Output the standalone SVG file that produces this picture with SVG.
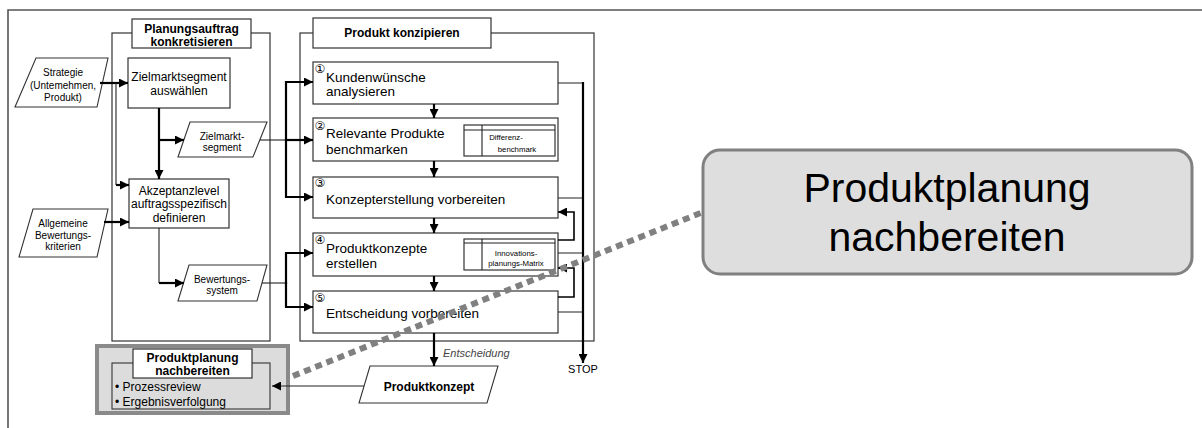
<svg xmlns="http://www.w3.org/2000/svg" width="1202" height="428" viewBox="0 0 1202 428">
  <defs>
    <marker id="ah" viewBox="0 0 10 10" refX="10" refY="5" markerWidth="9" markerHeight="9" markerUnits="userSpaceOnUse" orient="auto">
      <path d="M0,0 L10,5 L0,10 z" fill="#000"/>
    </marker>
    <style>
      text { font-family: "Liberation Sans", Arial, sans-serif; fill: #000; }
      .box { fill: #fff; stroke: #333; stroke-width: 1.2; }
      .frame { fill: none; stroke: #333; stroke-width: 1.2; }
      .para { fill: #fff; stroke: #333; stroke-width: 1.1; }
      .thin { fill: none; stroke: #222; stroke-width: 1.1; }
      .thick { fill: none; stroke: #000; stroke-width: 2.2; }
      .mid { fill: none; stroke: #000; stroke-width: 1.6; }
      .t12 { font-size: 12px; text-anchor: middle; }
      .t10 { font-size: 10px; text-anchor: middle; }
      .b12 { font-size: 12px; font-weight: bold; text-anchor: middle; }
      .step { font-size: 13.5px; }
      .num { font-family: "DejaVu Sans", sans-serif; font-size: 12px; text-anchor: middle; }
      .tiny { font-size: 7.8px; text-anchor: middle; }
    </style>
  </defs>

  <!-- page frame -->
  <path d="M8,428 V10 H1202" fill="none" stroke="#555" stroke-width="1.6"/>

  <!-- Planungsauftrag konkretisieren -->
  <g id="planungsauftrag">
    <rect class="frame" x="112" y="33" width="158" height="308"/>
    <rect class="box" x="132" y="19" width="119" height="29"/>
    <text class="b12" x="191.5" y="33">Planungsauftrag</text>
    <text class="b12" x="191.5" y="46">konkretisieren</text>
  </g>

  <g id="zielmarkt-auswaehlen">
    <rect class="box" x="128" y="58" width="102" height="50"/>
    <text class="t12" x="179" y="81">Zielmarktsegment</text>
    <text class="t12" x="179" y="95">auswählen</text>
  </g>

  <g id="akzeptanzlevel">
    <rect class="box" x="129" y="179" width="100" height="49"/>
    <text class="t12" x="179" y="195">Akzeptanzlevel</text>
    <text class="t12" x="179" y="208">auftragsspezifisch</text>
    <text class="t12" x="179" y="222">definieren</text>
  </g>

  <g id="strategie">
    <polygon class="para" points="36,58 108,58 97,107 15,107"/>
    <text class="t10" x="63" y="75.5">Strategie</text>
    <text class="t10" x="63" y="88.5">(Untemehmen,</text>
    <text class="t10" x="63" y="100.5">Produkt)</text>
  </g>

  <g id="bewertungskriterien">
    <polygon class="para" points="33,209 108,209 97,257 19,257"/>
    <text class="t10" x="63" y="226.5">Allgemeine</text>
    <text class="t10" x="63" y="238.5">Bewertungs-</text>
    <text class="t10" x="63" y="249.5">kriterien</text>
  </g>

  <g id="zielmarktsegment">
    <polygon class="para" points="190,122 267,122 253,157 178,157"/>
    <text class="t10" x="222" y="139.5">Zielmarkt-</text>
    <text class="t10" x="222" y="150.5">segment</text>
  </g>

  <g id="bewertungssystem">
    <polygon class="para" points="189,265 267,265 257,301 178,301"/>
    <text class="t10" x="222" y="282.5">Bewertungs-</text>
    <text class="t10" x="222" y="293.5">system</text>
  </g>

  <!-- Produkt konzipieren -->
  <g id="produkt-konzipieren">
    <rect class="frame" x="300" y="33" width="294" height="308"/>
    <rect class="box" x="313" y="18" width="178" height="30"/>
    <text class="b12" x="402" y="37">Produkt konzipieren</text>
  </g>

  <g id="schritt1">
    <rect class="box" x="313" y="62" width="245" height="42"/>
    <text class="num" x="320" y="72.5">①</text>
    <text class="step" x="326" y="82">Kundenwünsche</text>
    <text class="step" x="326" y="96">analysieren</text>
  </g>

  <g id="schritt2">
    <rect class="box" x="313" y="118" width="245" height="43"/>
    <text class="num" x="320" y="129.5">②</text>
    <text class="step" x="326" y="138">Relevante Produkte</text>
    <text class="step" x="326" y="154">benchmarken</text>
    <rect class="box" x="464" y="125" width="91" height="31"/>
    <path class="thin" d="M464,130 H555 M482,125 V156"/>
    <text class="tiny" x="506" y="140">Differenz-</text>
    <text class="tiny" x="517" y="152">benchmark</text>
  </g>

  <g id="schritt3">
    <rect class="box" x="313" y="177" width="245" height="41"/>
    <text class="num" x="320" y="186.5">③</text>
    <text class="step" x="326" y="204">Konzepterstellung vorbereiten</text>
  </g>

  <g id="schritt4">
    <rect class="box" x="313" y="233" width="245" height="43"/>
    <text class="num" x="320" y="243.5">④</text>
    <text class="step" x="326" y="253">Produktkonzepte</text>
    <text class="step" x="326" y="268">erstellen</text>
    <rect class="box" x="464" y="239" width="91" height="31"/>
    <path class="thin" d="M464,243 H555 M482,239 V270"/>
    <text class="tiny" x="516" y="256">Innovations-</text>
    <text class="tiny" x="516" y="266">planungs-Matrix</text>
  </g>

  <g id="schritt5">
    <rect class="box" x="313" y="291" width="245" height="42"/>
    <text class="num" x="320" y="301.5">⑤</text>
    <text class="step" x="326" y="318">Entscheidung vorbereiten</text>
  </g>

  <g id="produktkonzept">
    <polygon class="para" points="370,366 498,366 487,403 359,403"/>
    <text class="b12" x="429" y="391">Produktkonzept</text>
  </g>

  <g id="stop">
    <text style="font-size:11px;text-anchor:middle" x="583" y="373">STOP</text>
  </g>

  <!-- Produktplanung nachbereiten (small) -->
  <g id="nachbereiten-klein">
    <rect x="97" y="346" width="191" height="67" fill="#dcdcdc" stroke="#8a8a8a" stroke-width="4"/>
    <rect x="112" y="363" width="158" height="46" fill="none" stroke="#333" stroke-width="1.1"/>
    <rect class="box" x="133" y="349" width="119" height="29"/>
    <text class="b12" x="192.5" y="362">Produktplanung</text>
    <text class="b12" x="192.5" y="375">nachbereiten</text>
    <text style="font-size:12px" x="115" y="391">• Prozessreview</text>
    <text style="font-size:12px" x="115" y="406">• Ergebnisverfolgung</text>
  </g>

  <!-- Produktplanung nachbereiten (callout) -->
  <g id="nachbereiten-gross">
    <rect x="703" y="150" width="489" height="124" rx="17" fill="#dedede" stroke="#808080" stroke-width="3"/>
    <text style="font-size:41px;text-anchor:middle" x="947" y="202">Produktplanung</text>
    <text style="font-size:41px;text-anchor:middle" x="947" y="251">nachbereiten</text>
  </g>

  <!-- connectors -->
  <g id="connectors">
    <!-- left column -->
    <path class="thick" d="M100,83 H128" marker-end="url(#ah)"/>
    <path class="thin" d="M116,83 V185"/>
    <path class="thick" d="M116,185 H129" marker-end="url(#ah)"/>
    <path class="thick" d="M159,108 V179" marker-end="url(#ah)"/>
    <path class="thick" d="M159,140 H184" marker-end="url(#ah)"/>
    <path class="thick" d="M104,222 H129" marker-end="url(#ah)"/>
    <path class="thin" d="M159,228 V283"/>
    <path class="thick" d="M159,283 H184" marker-end="url(#ah)"/>

    <!-- inputs to Produkt konzipieren -->
    <path class="thin" d="M260,140 H287"/>
    <path class="thick" d="M286,140 H313" marker-end="url(#ah)"/>
    <path class="thick" d="M286,141 V82 H313" marker-end="url(#ah)"/>
    <path class="thick" d="M286,139 V197 H313" marker-end="url(#ah)"/>
    <path class="thin" d="M262,283 H287"/>
    <path class="thick" d="M286,284 V253 H313" marker-end="url(#ah)"/>
    <path class="thick" d="M286,282 V307 H313" marker-end="url(#ah)"/>

    <!-- step sequence -->
    <path class="thick" d="M434,104 V118" marker-end="url(#ah)"/>
    <path class="thick" d="M434,161 V177" marker-end="url(#ah)"/>
    <path class="thick" d="M434,218 V233" marker-end="url(#ah)"/>
    <path class="thick" d="M434,276 V291" marker-end="url(#ah)"/>
    <path class="thick" d="M434,333 V366" marker-end="url(#ah)"/>
    <text style="font-size:11px;font-style:italic;fill:#444" x="443" y="357">Entscheidung</text>

    <!-- exits to STOP -->
    <path class="thin" d="M558,83 H584 M558,198 H584 M558,253 H584 M558,312 H584"/>
    <path class="thick" d="M583,82 V363" marker-end="url(#ah)"/>

    <!-- feedback loops -->
    <path class="mid" d="M558,240 H574 V212 H558" marker-end="url(#ah)"/>
    <path class="mid" d="M558,297 H574 V268 H558" marker-end="url(#ah)"/>

    <!-- result back to follow-up -->
    <path class="thin" d="M364,386 H272" marker-end="url(#ah)"/>

    <!-- callout link -->
    <path d="M293,376 L703,212" fill="none" stroke="#808080" stroke-width="6" stroke-dasharray="7,5"/>
  </g>
</svg>
